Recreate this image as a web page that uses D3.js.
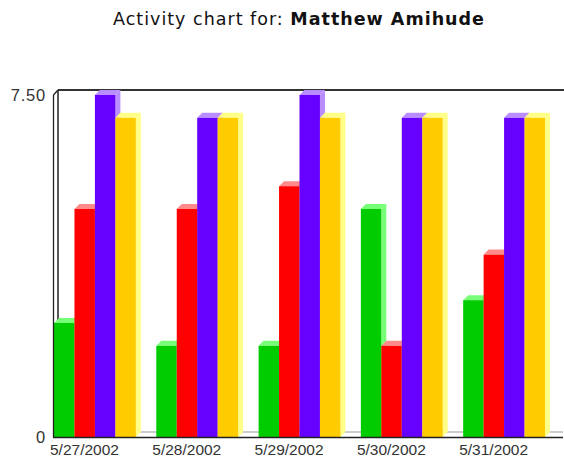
<!DOCTYPE html>
<html>
<head>
<meta charset="utf-8">
<script src="https://cdn.jsdelivr.net/npm/d3@7"></script>
<style>
  html, body { margin: 0; padding: 0; background: #fff; }
  svg { display: block; }
</style>
</head>
<body>
<svg id="chart" width="564" height="458"></svg>
<script>
const dates = ["5/27/2002", "5/28/2002", "5/29/2002", "5/30/2002", "5/31/2002"];
const seriesNames = ["A", "B", "C", "D"];
const greenValues  = [2.5, 2, 2, 5, 3];
const redValues    = [5, 5, 5.5, 2, 4];
const purpleValues = [7.5, 7, 7.5, 7, 7];
const yellowValues = [7, 7, 7, 7, 7];
const yTickValues  = [0, 7.5];

const seriesValues = [greenValues, redValues, purpleValues, yellowValues];
const frontColors = ["#00cc00", "#ff0000", "#6600ff", "#ffcc00"];
const lightColors = ["#77ff77", "#ff8a8a", "#b98cff", "#ffff88"];

const svg = d3.select("#chart");
const mLeft = 54, mBottom = 437, mTop = 95, mRight = 563, depth = 5;

const x0 = d3.scaleBand().domain(dates).range([mLeft, 545]).paddingInner(0.2).paddingOuter(0);
const x1 = d3.scaleBand().domain(seriesNames).range([0, x0.bandwidth()]).padding(0);
const y = d3.scaleLinear().domain([0, 7.5]).range([mBottom, mTop]);

// Title
const title = svg.append("text")
  .attr("x", 299).attr("y", 25)
  .attr("text-anchor", "middle")
  .attr("font-family", "DejaVu Sans, Verdana, sans-serif")
  .attr("font-size", 17.5)
  .attr("letter-spacing", 1)
  .attr("fill", "#111");
title.append("tspan").text("Activity chart for: ");
title.append("tspan").attr("font-weight", "bold").text("Matthew Amihude");

// Frame: back wall and floor lines
svg.append("line")
  .attr("x1", mLeft + depth - 1).attr("x2", mRight + 1)
  .attr("y1", y(7.5) - depth).attr("y2", y(7.5) - depth)
  .attr("stroke", "#333").attr("stroke-width", 1.8);
svg.append("line")
  .attr("x1", mLeft + depth - 1).attr("x2", mLeft + depth - 1)
  .attr("y1", y(7.5) - depth).attr("y2", y(0) - depth)
  .attr("stroke", "#222").attr("stroke-width", 1.5);
svg.append("line")
  .attr("x1", mLeft + depth - 1).attr("x2", mRight)
  .attr("y1", y(0) - depth).attr("y2", y(0) - depth)
  .attr("stroke", "#999").attr("stroke-width", 1);
svg.append("line")
  .attr("x1", mLeft - 0.5).attr("x2", mLeft + depth - 1)
  .attr("y1", y(7.5)).attr("y2", y(7.5) - depth)
  .attr("stroke", "#222").attr("stroke-width", 1.3);

// Bars
const groups = svg.append("g").selectAll("g")
  .data(dates)
  .join("g")
  .attr("transform", d => `translate(${x0(d)},0)`);

groups.each(function(date, gi) {
  const g = d3.select(this);
  seriesNames.forEach((s, si) => {
    const v = seriesValues[si][gi];
    const bx = x1(s), w = x1.bandwidth(), by = y(v), b0 = y(0);
    g.append("polygon")
      .attr("points", [[bx + w, by], [bx + w + depth, by - depth], [bx + w + depth, b0 - depth], [bx + w, b0]].join(" "))
      .attr("fill", lightColors[si]);
    g.append("polygon")
      .attr("points", [[bx, by], [bx + depth, by - depth], [bx + w + depth, by - depth], [bx + w, by]].join(" "))
      .attr("fill", lightColors[si]);
    g.append("rect")
      .attr("x", bx).attr("y", by)
      .attr("width", w).attr("height", b0 - by)
      .attr("fill", frontColors[si]);
  });
});

// Front axis lines
svg.append("line")
  .attr("x1", mLeft - 0.5).attr("x2", mLeft - 0.5)
  .attr("y1", y(7.5)).attr("y2", y(0))
  .attr("stroke", "#222").attr("stroke-width", 1.3);
svg.append("line")
  .attr("x1", mLeft - 1).attr("x2", mRight)
  .attr("y1", y(0) + 0.5).attr("y2", y(0) + 0.5)
  .attr("stroke", "#222").attr("stroke-width", 1.3);

// Y axis labels
const yAxis = d3.axisLeft(y)
  .tickValues(yTickValues)
  .tickSize(0)
  .tickPadding(8)
  .tickFormat(d => d === 0 ? "0" : d3.format(".2f")(d));
const yg = svg.append("g").attr("transform", `translate(${mLeft},0)`).call(yAxis);
yg.select(".domain").remove();
yg.selectAll("text")
  .attr("font-family", "Liberation Sans, Arial, sans-serif")
  .attr("font-size", 16.5)
  .attr("letter-spacing", 0.8)
  .attr("fill", "#333");

// X labels
svg.append("g").selectAll("text")
  .data(dates)
  .join("text")
  .attr("x", d => x0(d) - 4)
  .attr("y", 455)
  .attr("font-family", "Liberation Sans, Arial, sans-serif")
  .attr("font-size", 15.5)
  .attr("fill", "#333")
  .text(d => d);
</script>
</body>
</html>
